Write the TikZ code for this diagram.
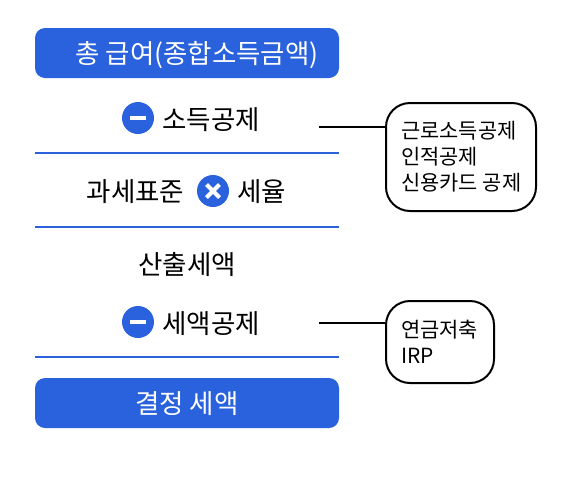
\documentclass[tikz,border=0pt]{standalone}
\usepackage{fontspec}
\setmainfont{Noto Sans CJK KR}
\definecolor{bl}{HTML}{2962DC}
\tikzset{x=1pt,y=-1pt,
 bar/.style={fill=bl,rounded corners=10pt,draw=none,minimum width=304pt,minimum height=50pt,inner sep=0pt,text=white,font=\fontsize{26.5}{30}\selectfont},
 lab/.style={inner sep=0pt,text=black,font=\fontsize{26.5}{30}\selectfont},
 rule/.style={draw=bl,line width=2pt},
 conn/.style={draw=black,line width=2pt},
 ic/.style={circle,fill=bl,minimum size=32pt,inner sep=0pt},
 note/.style={draw=black,line width=2pt,fill=white,rounded corners=24pt,inner sep=0pt,minimum width=0pt},
 notetxt/.style={inner sep=0pt,align=left,anchor=north west,font=\fontsize{20.9}{26}\selectfont},
 glyph/.style={draw=white,line width=4.5pt},
 xglyph/.style={draw=white,line width=4pt}}
\begin{document}
\begin{tikzpicture}
\useasboundingbox (0,0) rectangle (570,480);
\node[bar] (top) at (187,53) {};
\node[lab,text=white] (toptext) at (197,55) {총 급여(종합소득금액)};
\node[bar] (bot) at (187,403) {};
\node[lab,text=white] at (187,404) (bottext) {결정 세액};
\node[ic] (m1) at (138,118) {};
\draw[glyph] ([xshift=-8pt]m1.center) -- ([xshift=8pt]m1.center);
\node[lab] (t1) at (211,119.5) {소득공제};
\node[lab] (t2) at (135.5,191.5) {과세표준};
\node[ic] (x1) at (213,191) {};
\draw[xglyph] ([shift={(-6.5pt,-6.5pt)}]x1.center) -- ([shift={(6.5pt,6.5pt)}]x1.center);
\draw[xglyph] ([shift={(-6.5pt,6.5pt)}]x1.center) -- ([shift={(6.5pt,-6.5pt)}]x1.center);
\node[lab] (t3) at (261.5,191.5) {세율};
\node[lab] (t4) at (187,264.5) {산출세액};
\node[ic] (m2) at (138,322) {};
\draw[glyph] ([xshift=-8pt]m2.center) -- ([xshift=8pt]m2.center);
\node[lab] (t5) at (211,323.5) {세액공제};
\coordinate (r1a) at (35,153); \coordinate (r1b) at (339,153);
\coordinate (r2a) at (35,227); \coordinate (r2b) at (339,227);
\coordinate (r3a) at (35,357); \coordinate (r3b) at (339,357);
\draw[rule] (r1a) -- (r1b);
\draw[rule] (r2a) -- (r2b);
\draw[rule] (r3a) -- (r3b);
\node[note,minimum width=150pt,minimum height=108pt] (n1) at (461,157) {};
\node[note,minimum width=108pt,minimum height=82pt] (n2) at (440,342) {};
\node[notetxt] (n1t) at (401,121) {근로소득공제\\인적공제\\신용카드 공제};
\node[notetxt] (n2t) at (401,320) {연금저축\\IRP};
\coordinate (c1) at (319,127);
\coordinate (c2) at (319,323);
\draw[conn] (c1) -- (c1-|n1.west);
\draw[conn] (c2) -- (c2-|n2.west);
\end{tikzpicture}
\end{document}
